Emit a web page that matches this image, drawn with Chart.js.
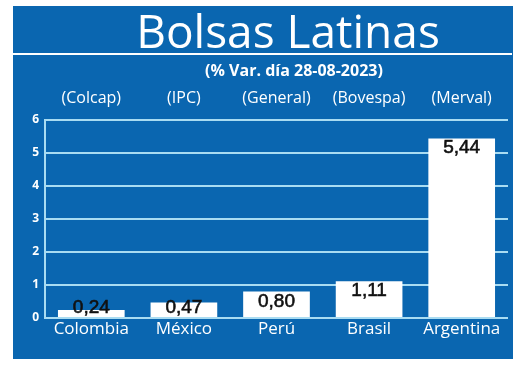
<!DOCTYPE html>
<html>
<head>
<meta charset="utf-8">
<script src="https://cdn.jsdelivr.net/npm/chart.js@4"></script>
<style>
  html, body { margin: 0; padding: 0; background: #ffffff; }
  #wrap { width: 520px; height: 365px; position: relative; }
</style>
</head>
<body>
<div id="wrap"><canvas id="bolsasChart"></canvas></div>
<script>
// Datos
const countries = ['Colombia', 'México', 'Perú', 'Brasil', 'Argentina'];
const indices = ['(Colcap)', '(IPC)', '(General)', '(Bovespa)', '(Merval)'];
const variation = [0.24, 0.47, 0.80, 1.11, 5.44];
const yTicks = [0, 1, 2, 3, 4, 5, 6];

const title = 'Bolsas Latinas';
const subtitle = '(% Var. día 28-08-2023)';

const BLUE = '#0a66b0';
const GRID = '#a9dcf2';

// panel azul, título y línea blanca
const panelPlugin = {
  id: 'panel',
  beforeDraw(chart) {
    const ctx = chart.ctx;
    ctx.save();
    ctx.fillStyle = BLUE;
    ctx.fillRect(13, 6, 500, 353);
    ctx.fillStyle = '#ffffff';
    ctx.fillRect(13, 53, 499, 2);
    ctx.textAlign = 'center';
    ctx.textBaseline = 'alphabetic';
    ctx.font = '500 46px "Open Sans"';
    ctx.fillText(title, 288, 48);
    ctx.font = 'bold 16px "Open Sans"';
    ctx.fillText(subtitle, 294, 76);
    ctx.restore();
  }
};

// etiquetas de valor dentro de las barras
const valueLabels = {
  id: 'valueLabels',
  afterDatasetsDraw(chart) {
    const ctx = chart.ctx;
    const meta = chart.getDatasetMeta(0);
    ctx.save();
    ctx.fillStyle = '#111111';
    ctx.strokeStyle = '#111111';
    ctx.lineWidth = 0.6;
    ctx.font = '19px "Liberation Sans"';
    ctx.textAlign = 'center';
    ctx.textBaseline = 'alphabetic';
    meta.data.forEach((bar, i) => {
      const txt = variation[i].toFixed(2).replace('.', ',');
      const y = Math.min(bar.y + 15, bar.base - 4);
      ctx.fillText(txt, bar.x, y);
      ctx.strokeText(txt, bar.x, y);
    });
    ctx.restore();
  }
};

new Chart(document.getElementById('bolsasChart'), {
  type: 'bar',
  data: {
    labels: countries,
    datasets: [{
      data: variation,
      backgroundColor: '#ffffff',
      borderWidth: 0,
      barPercentage: 0.72,
      categoryPercentage: 1.0
    }]
  },
  options: {
    responsive: true,
    maintainAspectRatio: false,
    animation: false,
    layout: { padding: { left: 13, right: 12, top: 0, bottom: 0 } },
    plugins: {
      legend: { display: false },
      tooltip: { enabled: false }
    },
    scales: {
      x: {
        position: 'bottom',
        grid: { display: false, drawTicks: false },
        border: { display: false },
        ticks: {
          color: '#ffffff',
          font: { family: 'Open Sans', size: 17 },
          padding: 1,
          maxRotation: 0
        },
        afterFit(scale) { scale.height = 47; }
      },
      xTop: {
        type: 'category',
        position: 'top',
        labels: indices,
        grid: { display: false, drawTicks: false },
        border: { display: false },
        ticks: {
          color: '#ffffff',
          font: { family: 'Open Sans', size: 16 },
          padding: 12,
          maxRotation: 0
        },
        afterFit(scale) { scale.height = 120; }
      },
      y: {
        min: 0,
        max: 6,
        afterBuildTicks(scale) {
          scale.ticks = yTicks.map(v => ({ value: v }));
        },
        grid: { color: GRID, lineWidth: 2, drawTicks: false },
        border: { display: true, color: GRID, width: 2 },
        ticks: {
          color: '#ffffff',
          font: { family: 'Open Sans', size: 12, weight: 'bold' },
          padding: 6
        },
        afterFit(scale) { scale.width = 32; }
      }
    }
  },
  plugins: [panelPlugin, valueLabels]
});
</script>
</body>
</html>
